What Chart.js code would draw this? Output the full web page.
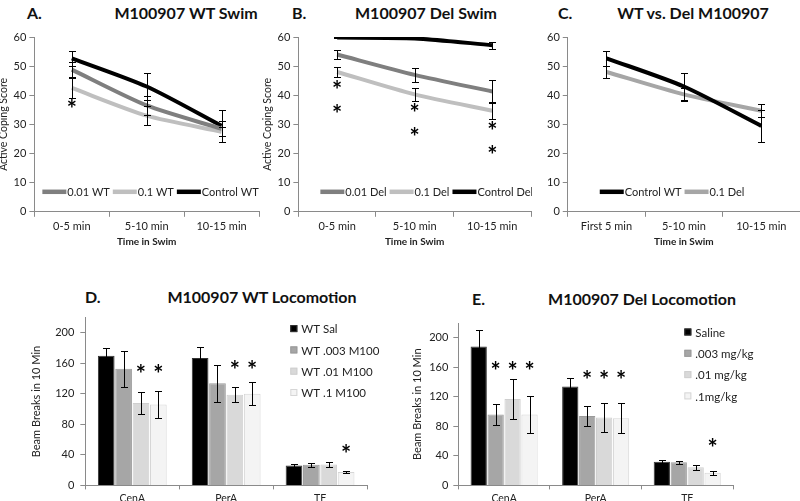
<!DOCTYPE html>
<html>
<head>
<meta charset="utf-8">
<script src="https://cdn.jsdelivr.net/npm/chart.js@4.4.1/dist/chart.umd.min.js"></script>
<style>
  body { margin: 0; background: #fff; width: 800px; height: 501px; overflow: hidden; position: relative; font-family: Lato, sans-serif; }
  canvas { position: absolute; }
  .t { position: absolute; font-weight: bold; font-size: 16px; line-height: 16px; color: #111; white-space: nowrap; }
  .c { transform: translateX(-50%); }
</style>
</head>
<body>
<div class="t" style="left:27px;top:5px">A.</div>
<div class="t c" style="left:186px;top:5px">M100907 WT Swim</div>
<div class="t" style="left:292px;top:5px">B.</div>
<div class="t c" style="left:426px;top:5px">M100907 Del Swim</div>
<div class="t" style="left:558px;top:5px">C.</div>
<div class="t c" style="left:693px;top:5px">WT vs. Del M100907</div>
<div class="t" style="left:85px;top:289px">D.</div>
<div class="t c" style="left:262px;top:289px">M100907 WT Locomotion</div>
<div class="t" style="left:472px;top:291px">E.</div>
<div class="t c" style="left:642px;top:291px">M100907 Del Locomotion</div>

<canvas id="cA" width="264" height="228" style="left:-3px;top:20px"></canvas>
<canvas id="cB" width="272" height="228" style="left:260px;top:20px"></canvas>
<canvas id="cC" width="268" height="228" style="left:532px;top:20px"></canvas>
<canvas id="cD" width="378" height="203" style="left:30px;top:305px"></canvas>
<canvas id="cE" width="392" height="203" style="left:408px;top:305px"></canvas>

<script>
// swim test (active coping score)
const swimCats = ['0-5 min', '5-10 min', '10-15 min'];
const swimCatsC = ['First 5 min', '5-10 min', '10-15 min'];

const wt001 = [48.8, 36.5, 28.5];
const wt001Err = [2.5, 3.3, 2.6];
const wt01 = [42.5, 33.0, 27.5];
const wt01Err = [3.3, 3.3, 1.5];
const wtCtrl = [52.7, 43.0, 29.5];
const wtCtrlErr = [2.5, 4.7, 5.5];

const del001 = [54.0, 47.0, 41.3];
const del001Err = [1.5, 2.5, 3.8];
const del01 = [48.0, 40.3, 34.7];
const del01Err = [1.6, 2.1, 3.0];
const delCtrl = [59.8, 59.5, 57.2];
const delCtrlErr = [0.3, 0.3, 1.2];
const del01ErrC = [2.2, 2.1, 2.3];

const starsA = [{ i: 0, y: 37.3 }];
const starsB = [
  { i: 0, y: 43.6 }, { i: 0, y: 35.3 },
  { i: 1, y: 35.7 }, { i: 1, y: 27.5 },
  { i: 2, y: 29.7 }, { i: 2, y: 21.4 }
];

// locomotion (beam breaks)
const locoCats = ['CenA', 'PerA', 'TF'];

const wtSal = [170, 167, 26];
const wtSalErr = [10, 14, 2.5];
const wt003m = [153, 134, 27];
const wt003mErr = [23.5, 24, 2.5];
const wt01m = [108, 119, 27.5];
const wt01mErr = [14, 10, 3];
const wt1m = [106, 120, 17.5];
const wt1mErr = [17.5, 15, 1.5];
const starsD = [
  { ds: 2, i: 0, y: 153 }, { ds: 3, i: 0, y: 153 },
  { ds: 2, i: 1, y: 158 }, { ds: 3, i: 1, y: 158 },
  { ds: 3, i: 2, y: 49 }
];

const delSal = [188, 134, 32];
const delSalErr = [22.5, 12, 2.5];
const del003m = [96, 94, 31.5];
const del003mErr = [14.5, 13, 2];
const del01m = [117, 92, 24.5];
const del01mErr = [26.5, 20, 3];
const del1m = [96, 91, 17];
const del1mErr = [24.5, 20, 2.5];
const starsE = [
  { ds: 1, i: 0, y: 162 }, { ds: 2, i: 0, y: 162 }, { ds: 3, i: 0, y: 162 },
  { ds: 1, i: 1, y: 150.5 }, { ds: 2, i: 1, y: 150.5 }, { ds: 3, i: 1, y: 150.5 },
  { ds: 3, i: 2, y: 57.5 }
];

Chart.defaults.font.family = 'Lato, sans-serif';
Chart.defaults.color = '#222';
Chart.defaults.animation = false;

const AXIS = '#8a8a8a';
const DARK = '#7f7f7f', LIGHT = '#bfbfbf';

// error bars from ds.err, drawn over the marks
const errorBars = {
  id: 'errorBars',
  afterDatasetsDraw(chart) {
    const { ctx } = chart;
    const ys = chart.scales.y;
    ctx.save();
    ctx.strokeStyle = '#000';
    ctx.lineWidth = 1;
    chart.data.datasets.forEach((ds, di) => {
      if (!ds.err) return;
      chart.getDatasetMeta(di).data.forEach((el, i) => {
        const v = ds.data[i], e = ds.err[i];
        const x = Math.round(el.x) + 0.5;
        const y1 = Math.round(ys.getPixelForValue(v + e)) + 0.5;
        const y2 = Math.round(ys.getPixelForValue(v - e)) + 0.5;
        ctx.beginPath();
        ctx.moveTo(x, y1); ctx.lineTo(x, y2);
        ctx.moveTo(x - 3.5, y1); ctx.lineTo(x + 3.5, y1);
        ctx.moveTo(x - 3.5, y2); ctx.lineTo(x + 3.5, y2);
        ctx.stroke();
      });
    });
    ctx.restore();
  }
};

// significance asterisks, placed in data space
const stars = {
  id: 'stars',
  afterDraw(chart, args, opts) {
    const list = opts.list || [];
    const { ctx } = chart;
    ctx.save();
    ctx.fillStyle = '#000';
    ctx.font = 'bold 24px Lato';
    ctx.textAlign = 'center';
    ctx.textBaseline = 'alphabetic';
    const m = ctx.measureText('*');
    const off = (m.actualBoundingBoxAscent - m.actualBoundingBoxDescent) / 2;
    list.forEach(s => {
      const x = s.ds != null ? chart.getDatasetMeta(s.ds).data[s.i].x : chart.scales.x.getPixelForValue(s.i);
      const y = chart.scales.y.getPixelForValue(s.y);
      ctx.fillText('*', x, y + off);
    });
    ctx.restore();
  }
};

// legends: a row of line swatches, or a column of boxes
const legendRow = {
  id: 'legendRow',
  afterDraw(chart, args, opts) {
    if (opts.x == null) return;
    const { ctx, chartArea } = chart;
    let x = chartArea.left + opts.x;
    const y = chartArea.bottom - opts.dy;
    ctx.save();
    ctx.font = '11px Lato';
    ctx.textBaseline = 'middle';
    chart.data.datasets.forEach(ds => {
      ctx.strokeStyle = ds.borderColor;
      ctx.lineWidth = 4.5;
      ctx.beginPath(); ctx.moveTo(x, y); ctx.lineTo(x + 24, y); ctx.stroke();
      x += 25;
      ctx.fillStyle = '#222';
      ctx.fillText(ds.label, x, y + 1);
      x += ctx.measureText(ds.label).width + 3;
    });
    ctx.restore();
  }
};

const legendCol = {
  id: 'legendCol',
  afterDraw(chart, args, opts) {
    if (opts.x == null) return;
    const { ctx, chartArea } = chart;
    const x = chartArea.left + opts.x;
    ctx.save();
    ctx.font = '11.5px Lato';
    ctx.textBaseline = 'middle';
    chart.data.datasets.forEach((ds, i) => {
      const y = chartArea.top + opts.y + i * opts.step;
      ctx.fillStyle = ds.backgroundColor;
      ctx.fillRect(x, y - 3.5, 7, 7);
      ctx.strokeStyle = ds.borderColor;
      ctx.lineWidth = 1;
      ctx.strokeRect(x + 0.5, y - 3, 6, 6);
      ctx.fillStyle = '#222';
      ctx.fillText(ds.label, x + 11, y + 1);
    });
    ctx.restore();
  }
};

function lineSet(label, data, err, color) {
  return { label, data, err, borderColor: color, backgroundColor: color, borderWidth: 4, pointRadius: 0, tension: 0.25 };
}

function swimChart(id, cats, datasets, opts) {
  return new Chart(document.getElementById(id), {
    type: 'line',
    data: { labels: cats, datasets },
    options: {
      responsive: false,
      layout: { padding: opts.pad },
      plugins: {
        legend: { display: false }, tooltip: { enabled: false },
        stars: { list: opts.stars || [] },
        legendRow: { x: opts.legX, dy: 20 }
      },
      scales: {
        x: {
          offset: true,
          grid: { offset: true, drawOnChartArea: false, tickLength: 5, color: AXIS },
          border: { color: AXIS },
          ticks: { font: { size: 11 }, padding: 3 },
          title: { display: true, text: 'Time in Swim', font: { size: 10, weight: 'bold' }, padding: 0 }
        },
        y: {
          min: 0, max: 60,
          grid: { drawOnChartArea: false, tickLength: 5, color: AXIS },
          border: { color: AXIS },
          ticks: { stepSize: 10, font: { size: 11 }, padding: 3 },
          title: { display: !!opts.yTitle, text: opts.yTitle, font: { size: 10.5 }, padding: { top: 0, bottom: 1 } }
        }
      }
    },
    plugins: [errorBars, stars, legendRow]
  });
}

function barSet(label, data, err, bg, bd) {
  return { label, data, err, backgroundColor: bg, borderColor: bd, borderWidth: 1, categoryPercentage: 0.74, barPercentage: 0.96 };
}

function locoChart(id, datasets, opts) {
  return new Chart(document.getElementById(id), {
    type: 'bar',
    data: { labels: locoCats, datasets },
    options: {
      responsive: false,
      layout: { padding: opts.pad },
      plugins: {
        legend: { display: false }, tooltip: { enabled: false },
        stars: { list: opts.stars },
        legendCol: { x: opts.legX, y: opts.legY, step: 21.3 }
      },
      scales: {
        x: {
          grid: { offset: true, drawOnChartArea: false, tickLength: 4, color: AXIS },
          border: { color: AXIS },
          ticks: { font: { size: 10.5 }, padding: 3 }
        },
        y: {
          min: 0, max: 220,
          grid: { drawOnChartArea: false, tickLength: 5, color: AXIS },
          border: { color: AXIS },
          ticks: { stepSize: 40, includeBounds: false, font: { size: 11 }, padding: opts.tickPad },
          title: { display: true, text: 'Beam Breaks in 10 Min', font: { size: 11 }, padding: { top: 0, bottom: opts.titlePad } }
        }
      }
    },
    plugins: [errorBars, stars, legendCol]
  });
}

swimChart('cA', swimCats, [
  lineSet('0.01 WT', wt001, wt001Err, DARK),
  lineSet('0.1 WT', wt01, wt01Err, LIGHT),
  lineSet('Control WT', wtCtrl, wtCtrlErr, '#000')
], { pad: { top: 17, left: 0, right: 2, bottom: 0 }, yTitle: 'Active Coping Score', stars: starsA, legX: 8 });

swimChart('cB', swimCats, [
  lineSet('0.01 Del', del001, del001Err, DARK),
  lineSet('0.1 Del', del01, del01Err, LIGHT),
  lineSet('Control Del', delCtrl, delCtrlErr, '#000')
], { pad: { top: 17, left: 1, right: 1, bottom: 0 }, yTitle: 'Active Coping Score', stars: starsB, legX: 22 });

swimChart('cC', swimCatsC, [
  lineSet('Control WT', wtCtrl, wtCtrlErr, '#000'),
  lineSet('0.1 Del', del01, del01ErrC, '#a6a6a6')
], { pad: { top: 17, left: 12, right: 0, bottom: 0 }, legX: 32 });

locoChart('cD', [
  barSet('WT Sal', wtSal, wtSalErr, '#000000', '#333333'),
  barSet('WT .003 M100', wt003m, wt003mErr, '#a6a6a6', '#9a9a9a'),
  barSet('WT .01 M100', wt01m, wt01mErr, '#d9d9d9', '#cfcfcf'),
  barSet('WT .1 M100', wt1m, wt1mErr, '#f4f4f4', '#d6d6d6')
], { pad: { top: 12, left: 0, right: 41, bottom: 0 }, stars: starsD, legX: 205, legY: 11, tickPad: 6, titlePad: 6 });

locoChart('cE', [
  barSet('Saline', delSal, delSalErr, '#000000', '#333333'),
  barSet('.003 mg/kg', del003m, del003mErr, '#a6a6a6', '#9a9a9a'),
  barSet('.01 mg/kg', del01m, del01mErr, '#d9d9d9', '#cfcfcf'),
  barSet('.1mg/kg', del1m, del1mErr, '#f4f4f4', '#d6d6d6')
], { pad: { top: 18, left: 3, right: 67, bottom: 0 }, stars: starsE, legX: 226, legY: 9, tickPad: 5, titlePad: 0 });
</script>
</body>
</html>
